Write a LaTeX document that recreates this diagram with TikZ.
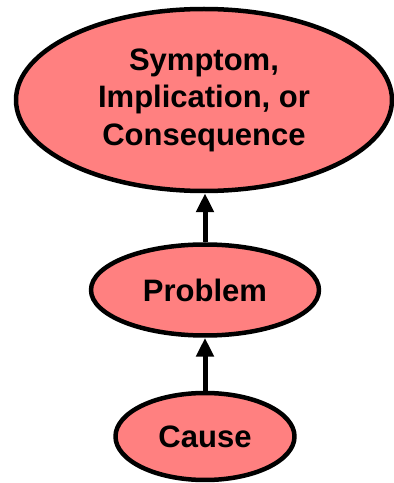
\documentclass[tikz,border=0pt]{standalone}
\usepackage{fontspec}
\setmainfont{Liberation Sans}
\usetikzlibrary{arrows.meta}
\usetikzlibrary{shapes.geometric}
\definecolor{pinkfill}{RGB}{255,128,128}

\begin{document}
\begin{tikzpicture}[line cap=round,line join=round,>={Triangle[width=17pt,length=19pt]},x=1pt,y=1pt,
  bubble/.style={ellipse,draw=black,fill=pinkfill,line width=4.5pt,inner sep=0pt,align=center,
    font=\bfseries\fontsize{31}{37.5}\selectfont}]
\useasboundingbox (0,0) rectangle (394,483);
\node [bubble, minimum width=376, minimum height=182] (symptom) at (204,383) {Symptom,\\Implication, or\\Consequence};
\node [bubble, minimum width=228, minimum height=91] (problem) at (205,193) {Problem};
\node [bubble, minimum width=179, minimum height=87] (cause) at (205,46.5) {Cause};
\draw [->, line width=5pt, line cap=butt] (problem.north) -- (problem.north |- symptom.south);
\draw [->, line width=5pt, line cap=butt] (cause.north) -- (problem.south);
\end{tikzpicture}
\end{document}
